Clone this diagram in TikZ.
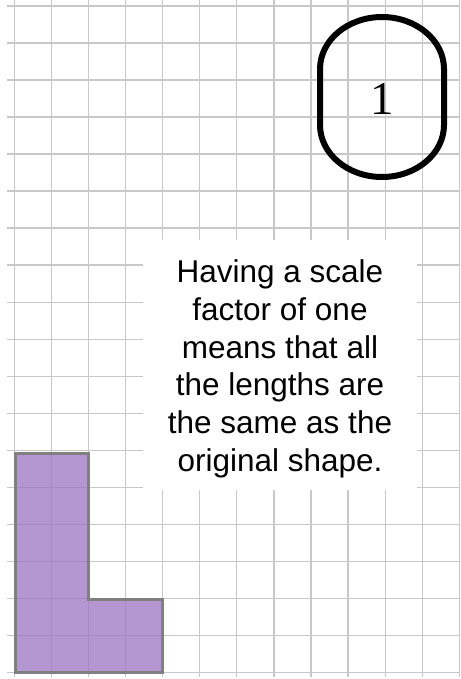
\documentclass[tikz,border=0pt]{standalone}
\usepackage{fontspec}
\setmainfont{Liberation Sans}
\newfontfamily\digitfont{Liberation Serif}
\usetikzlibrary{positioning}

\definecolor{gridgray}{RGB}{200,200,200}
\definecolor{shapepurple}{RGB}{155,115,192}
\definecolor{edgegray}{RGB}{128,128,128}

\begin{document}
\begin{tikzpicture}[
    x=1pt, y=-1pt,
    gridline/.style = {draw=gridgray, line width=1.3pt},
    lshape/.style = {fill=shapepurple, fill opacity=0.75, draw=edgegray, line width=3pt, line join=miter},
    notebox/.style = {rectangle, fill=white, inner sep=0pt, minimum width=274pt, minimum height=250pt},
    notetext/.style = {align=center, inner sep=0pt, font=\fontsize{31.5}{37.7}\selectfont},
    oval/.style = {draw, line width=6pt},
    digit/.style = {inner sep=0pt, font=\digitfont\fontsize{47}{47}\selectfont}]

    \useasboundingbox (0,0) rectangle (460,679);

    % square grid
    \foreach \i in {0,...,12}
        \draw[gridline] ({14.3+37.09*\i},0) -- ({14.3+37.09*\i},677);
    \foreach \j in {0,...,18}
        \draw[gridline] (7,{6+37.02*\j}) -- (460,{6+37.02*\j});

    % original shape
    \draw[lshape] (15,453) -- (88.5,453) -- (88.5,599.5) -- (162,599.5) -- (162,672) -- (15,672) -- cycle;

    % explanation
    \node[notebox] (box) at (280,365) {};
    \node[notetext] (note) at (280,369) {Having a scale\\factor of one\\means that all\\the lengths are\\the same as the\\original shape.};

    % scale factor
    \draw[oval] (320,69) arc[start angle=180, end angle=360, x radius=62, y radius=52]
        -- (444,125) arc[start angle=0, end angle=180, x radius=62, y radius=52] -- cycle;
    \node[digit] (factor) at (382.5,99) {1};
\end{tikzpicture}
\end{document}
